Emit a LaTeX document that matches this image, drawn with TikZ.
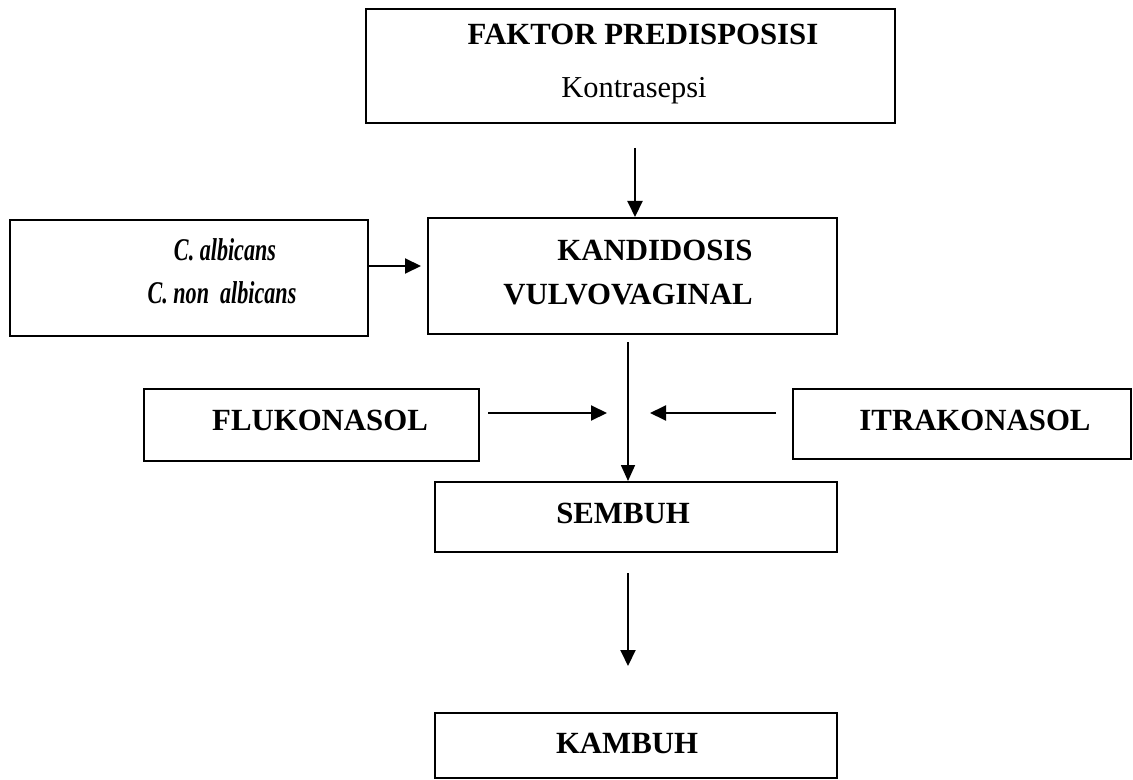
\documentclass[tikz,border=0pt]{standalone}
\usepackage{fontspec}
\setmainfont{Liberation Serif}
\newfontfamily\narrowserif[FakeStretch=0.7]{Liberation Serif}
\usetikzlibrary{arrows.meta}
\begin{document}
\begin{tikzpicture}[x=0.5pt,y=-0.5pt,
  box/.style={draw, line width=1pt, inner sep=0pt},
  lbl/.style={inner sep=0pt, font=\fontsize{15.2}{18}\selectfont},
  blbl/.style={lbl, font=\fontsize{15.4}{18}\selectfont\bfseries},
  ilbl/.style={lbl, font=\fontsize{15.8}{18}\narrowserif\bfseries\itshape},
  arr/.style={line width=1pt, -{Triangle[length=8pt,width=7.5pt]}},
  thinarr/.style={line width=0.8pt, -{Triangle[length=8pt,width=7pt]}}]
\useasboundingbox[fill=white] (0,0) rectangle (1133,780);

% boxes
\node[box, minimum width=264.5pt, minimum height=57pt] (top) at (630.5,66) {};
\node[box, minimum width=179pt, minimum height=58pt] (left) at (189,278) {};
\node[box, minimum width=204.5pt, minimum height=58pt] (kand) at (632.5,276) {};
\node[box, minimum width=167.5pt, minimum height=36pt] (fluko) at (311.5,425) {};
\node[box, minimum width=169pt, minimum height=35pt] (itra) at (962,424) {};
\node[box, minimum width=201pt, minimum height=35pt] (sembuh) at (636,517) {};
\node[box, minimum width=201pt, minimum height=32.5pt] (kambuh) at (636,745.5) {};

% texts
\node[blbl] (t1) at (643,34) {FAKTOR PREDISPOSISI};
\node[lbl] (t2) at (634,91) {Kontrasepsi};
\node[ilbl] (t3) at (225,250) {C. albicans};
\node[ilbl] (t4) at (222,293) {C. non\ \ albicans};
\node[blbl] (t5) at (655,250) {KANDIDOSIS};
\node[blbl] (t6) at (628,295) {VULVOVAGINAL};
\node[blbl] (t7) at (320,420) {FLUKONASOL};
\node[blbl] (t8) at (975,420) {ITRAKONASOL};
\node[blbl] (t9) at (623,513) {SEMBUH};
\node[blbl] (t10) at (627,743) {KAMBUH};

% connectors
\coordinate (a1) at (635,148);
\draw[arr] (a1) -- (a1 |- kand.north);
\coordinate (a2) at (0,266);
\draw[arr] (left.east |- a2) -- ([xshift=-3pt]kand.west |- a2);
\coordinate (v1) at (628,342);
\draw[thinarr] (v1) -- (v1 |- sembuh.north);
\coordinate (f2) at (607,413);
\draw[arr] ([xshift=4pt]fluko.east |- f2) -- (f2);
\coordinate (i2) at (650,413);
\draw[arr] ([xshift=-8pt]itra.west |- i2) -- (i2);
\coordinate (k1) at (628,573);
\coordinate (k2) at (628,666);
\draw[arr] (k1) -- (k2);
\end{tikzpicture}
\end{document}
